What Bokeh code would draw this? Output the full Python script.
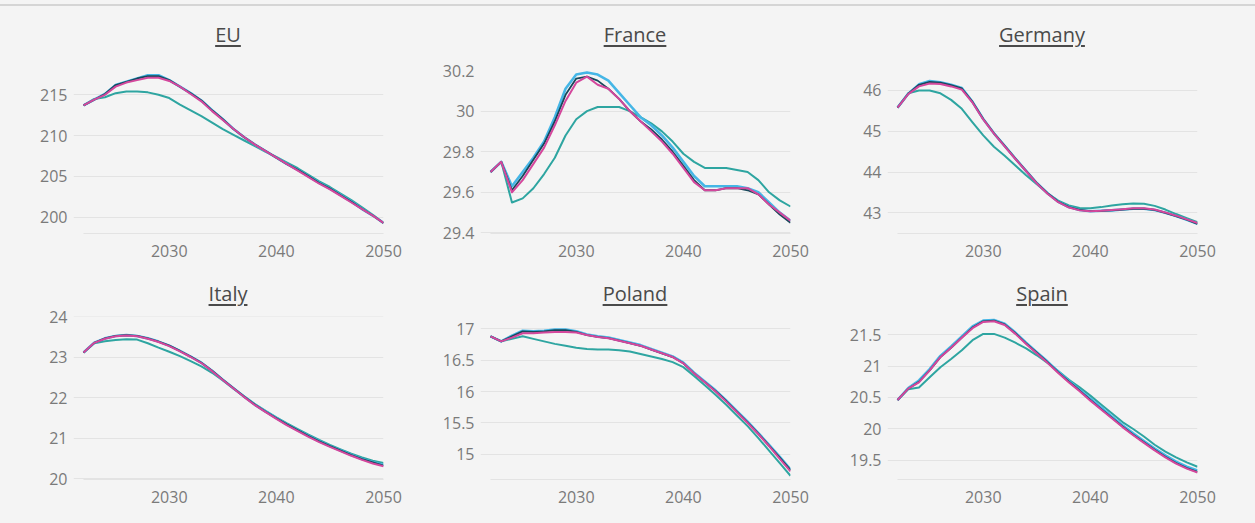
from bokeh.plotting import figure
from bokeh.models import Range1d, FixedTicker, NumeralTickFormatter, Div
from bokeh.layouts import row, column
from bokeh.embed import file_html
from bokeh.resources import INLINE

YEARS = [2022, 2023, 2024, 2025, 2026, 2027, 2028, 2029, 2030, 2031, 2032, 2033, 2034, 2035,
         2036, 2037, 2038, 2039, 2040, 2041, 2042, 2043, 2044, 2045, 2046, 2047, 2048, 2049, 2050]
X_TICKS = [2030, 2040, 2050]

# ---- EU ----
EU_TEAL = [213.7, 214.5, 214.7, 215.2, 215.4, 215.4, 215.3, 215.0, 214.6, 213.8, 213.1, 212.4, 211.6, 210.8,
           210.1, 209.4, 208.7, 208.0, 207.4, 206.7, 206.0, 205.2, 204.4, 203.7, 202.9, 202.1, 201.2, 200.3, 199.3]
EU_BLUE = [213.7, 214.4, 215.1, 216.2, 216.6, 217.0, 217.4, 217.4, 216.8, 216.0, 215.2, 214.3, 213.1, 212.0,
           210.8, 209.8, 208.9, 208.1, 207.3, 206.5, 205.8, 205.0, 204.2, 203.5, 202.7, 201.9, 201.0, 200.2, 199.3]
EU_DARK = [213.7, 214.4, 215.1, 216.2, 216.6, 217.0, 217.3, 217.3, 216.8, 216.0, 215.2, 214.3, 213.1, 212.0,
           210.8, 209.8, 208.9, 208.1, 207.3, 206.5, 205.8, 205.0, 204.2, 203.5, 202.7, 201.9, 201.0, 200.2, 199.3]
EU_PINK = [213.7, 214.4, 215.0, 216.0, 216.5, 216.8, 217.1, 217.1, 216.7, 216.0, 215.1, 214.2, 213.0, 211.9,
           210.8, 209.8, 208.9, 208.1, 207.3, 206.5, 205.7, 204.9, 204.1, 203.4, 202.6, 201.8, 201.0, 200.2, 199.3]
EU_YTICKS = [200, 205, 210, 215]

# ---- France ----
FR_TEAL = [29.70, 29.75, 29.55, 29.57, 29.62, 29.69, 29.77, 29.88, 29.96, 30.00, 30.02, 30.02, 30.02, 30.00,
           29.97, 29.94, 29.90, 29.85, 29.79, 29.75, 29.72, 29.72, 29.72, 29.71, 29.70, 29.66, 29.60, 29.56, 29.53]
FR_BLUE = [29.70, 29.75, 29.63, 29.70, 29.77, 29.85, 29.97, 30.11, 30.18, 30.19, 30.18, 30.15, 30.09, 30.03,
           29.97, 29.93, 29.88, 29.82, 29.75, 29.68, 29.63, 29.63, 29.63, 29.63, 29.62, 29.60, 29.55, 29.50, 29.46]
FR_DARK = [29.70, 29.75, 29.61, 29.68, 29.76, 29.84, 29.95, 30.08, 30.16, 30.17, 30.15, 30.11, 30.06, 30.00,
           29.95, 29.91, 29.86, 29.80, 29.73, 29.66, 29.61, 29.61, 29.62, 29.62, 29.61, 29.59, 29.54, 29.49, 29.45]
FR_PINK = [29.70, 29.75, 29.60, 29.66, 29.74, 29.82, 29.93, 30.05, 30.14, 30.17, 30.13, 30.11, 30.06, 30.00,
           29.95, 29.90, 29.85, 29.79, 29.72, 29.65, 29.61, 29.61, 29.62, 29.62, 29.62, 29.59, 29.54, 29.50, 29.46]
FR_YTICKS = [29.4, 29.6, 29.8, 30.0, 30.2]

# ---- Germany ----
DE_TEAL = [45.58, 45.93, 46.00, 46.00, 45.93, 45.77, 45.55, 45.22, 44.90, 44.62, 44.40, 44.16, 43.92, 43.70,
           43.48, 43.30, 43.18, 43.12, 43.11, 43.14, 43.18, 43.21, 43.23, 43.22, 43.17, 43.08, 42.97, 42.87, 42.77]
DE_BLUE = [45.58, 45.92, 46.15, 46.23, 46.20, 46.14, 46.06, 45.72, 45.30, 44.95, 44.64, 44.33, 44.03, 43.73,
           43.48, 43.27, 43.14, 43.07, 43.04, 43.05, 43.06, 43.08, 43.10, 43.10, 43.07, 43.00, 42.92, 42.83, 42.73]
DE_DARK = [45.58, 45.92, 46.14, 46.21, 46.19, 46.13, 46.05, 45.72, 45.30, 44.95, 44.64, 44.33, 44.03, 43.73,
           43.48, 43.27, 43.14, 43.07, 43.04, 43.05, 43.06, 43.08, 43.10, 43.10, 43.07, 43.00, 42.92, 42.83, 42.73]
DE_PINK = [45.58, 45.91, 46.10, 46.17, 46.16, 46.10, 46.02, 45.70, 45.29, 44.94, 44.63, 44.32, 44.02, 43.72,
           43.47, 43.26, 43.13, 43.06, 43.04, 43.05, 43.07, 43.09, 43.11, 43.11, 43.08, 43.01, 42.93, 42.84, 42.75]
DE_YTICKS = [43, 44, 45, 46]

# ---- Italy ----
IT_TEAL = [23.12, 23.35, 23.40, 23.43, 23.45, 23.44, 23.35, 23.24, 23.14, 23.03, 22.91, 22.78, 22.62, 22.43,
           22.23, 22.04, 21.85, 21.68, 21.52, 21.37, 21.23, 21.09, 20.96, 20.84, 20.73, 20.62, 20.53, 20.45, 20.39]
IT_BLUE = [23.12, 23.36, 23.47, 23.53, 23.55, 23.53, 23.47, 23.39, 23.29, 23.16, 23.02, 22.87, 22.67, 22.45,
           22.24, 22.03, 21.83, 21.66, 21.50, 21.34, 21.20, 21.06, 20.93, 20.81, 20.70, 20.59, 20.49, 20.41, 20.34]
IT_DARK = [23.12, 23.36, 23.47, 23.53, 23.55, 23.53, 23.47, 23.39, 23.29, 23.16, 23.02, 22.87, 22.67, 22.45,
           22.24, 22.03, 21.83, 21.66, 21.50, 21.34, 21.20, 21.06, 20.93, 20.81, 20.70, 20.59, 20.49, 20.41, 20.33]
IT_PINK = [23.12, 23.36, 23.46, 23.52, 23.54, 23.52, 23.46, 23.38, 23.28, 23.15, 23.01, 22.86, 22.66, 22.44,
           22.23, 22.02, 21.82, 21.65, 21.48, 21.32, 21.18, 21.04, 20.91, 20.79, 20.68, 20.57, 20.47, 20.38, 20.31]
IT_YTICKS = [20, 21, 22, 23, 24]

# ---- Poland ----
PL_TEAL = [16.88, 16.80, 16.84, 16.88, 16.84, 16.80, 16.76, 16.73, 16.70, 16.68, 16.67, 16.67, 16.66, 16.64,
           16.60, 16.56, 16.52, 16.47, 16.39, 16.25, 16.10, 15.95, 15.79, 15.62, 15.45, 15.26, 15.06, 14.86, 14.66]
PL_BLUE = [16.88, 16.80, 16.89, 16.97, 16.96, 16.97, 16.99, 16.99, 16.96, 16.91, 16.88, 16.86, 16.82, 16.78,
           16.74, 16.68, 16.62, 16.56, 16.46, 16.30, 16.16, 16.02, 15.86, 15.69, 15.52, 15.34, 15.15, 14.96, 14.76]
PL_DARK = [16.88, 16.80, 16.88, 16.96, 16.95, 16.96, 16.98, 16.98, 16.95, 16.90, 16.87, 16.85, 16.81, 16.77,
           16.73, 16.67, 16.61, 16.55, 16.45, 16.29, 16.15, 16.01, 15.85, 15.68, 15.51, 15.33, 15.14, 14.95, 14.75]
PL_PINK = [16.88, 16.80, 16.86, 16.93, 16.93, 16.94, 16.95, 16.95, 16.94, 16.90, 16.87, 16.85, 16.81, 16.77,
           16.73, 16.67, 16.61, 16.55, 16.45, 16.29, 16.15, 16.00, 15.84, 15.67, 15.50, 15.32, 15.13, 14.93, 14.73]
PL_YTICKS = [15, 15.5, 16, 16.5, 17]

# ---- Spain ----
ES_TEAL = [20.46, 20.63, 20.66, 20.82, 20.98, 21.11, 21.25, 21.41, 21.51, 21.51, 21.45, 21.37, 21.28, 21.17,
           21.05, 20.92, 20.78, 20.66, 20.53, 20.39, 20.25, 20.11, 20.00, 19.88, 19.75, 19.64, 19.55, 19.47, 19.40]
ES_BLUE = [20.46, 20.65, 20.77, 20.95, 21.16, 21.31, 21.47, 21.63, 21.72, 21.73, 21.67, 21.53, 21.37, 21.22,
           21.07, 20.91, 20.76, 20.62, 20.48, 20.34, 20.20, 20.06, 19.93, 19.81, 19.69, 19.58, 19.48, 19.40, 19.34]
ES_DARK = [20.46, 20.64, 20.75, 20.93, 21.14, 21.29, 21.45, 21.61, 21.71, 21.72, 21.66, 21.52, 21.36, 21.21,
           21.06, 20.90, 20.75, 20.61, 20.46, 20.32, 20.18, 20.04, 19.91, 19.79, 19.67, 19.56, 19.46, 19.38, 19.32]
ES_PINK = [20.46, 20.64, 20.74, 20.93, 21.14, 21.29, 21.45, 21.60, 21.70, 21.71, 21.65, 21.51, 21.35, 21.20,
           21.05, 20.89, 20.74, 20.60, 20.45, 20.31, 20.17, 20.03, 19.90, 19.78, 19.66, 19.55, 19.45, 19.37, 19.31]
ES_YTICKS = [19.5, 20, 20.5, 21, 21.5]

BG = "#f4f4f4"
FONT = "Open Sans"
COLORS = {"teal": "#2ea5a1", "blue": "#45b6e6", "dark": "#17485a", "pink": "#d4479c"}
WIDTHS = {"teal": 2, "blue": 2.6, "dark": 1.8, "pink": 2}

panels = [
    ("EU", [EU_TEAL, EU_BLUE, EU_DARK, EU_PINK], (198.0, 217.98), EU_YTICKS),
    ("France", [FR_TEAL, FR_BLUE, FR_DARK, FR_PINK], (29.397, 30.2), FR_YTICKS),
    ("Germany", [DE_TEAL, DE_BLUE, DE_DARK, DE_PINK], (42.493, 46.49), DE_YTICKS),
    ("Italy", [IT_TEAL, IT_BLUE, IT_DARK, IT_PINK], (19.985, 24.01), IT_YTICKS),
    ("Poland", [PL_TEAL, PL_BLUE, PL_DARK, PL_PINK], (14.60, 17.196), PL_YTICKS),
    ("Spain", [ES_TEAL, ES_BLUE, ES_DARK, ES_PINK], (19.198, 21.786), ES_YTICKS),
]

FRAME_W = 310
FRAME_H = 163
LEFTS = [73, 65, 65]
RIGHTS = [32, 32, 58]


def make_panel(idx, name, series, yr, yticks):
    col = idx % 3
    top_row = idx < 3
    left = LEFTS[col]
    right = RIGHTS[col]
    width = left + FRAME_W + right
    mb_top = 15 if top_row else 9
    mb_bottom = 40 if top_row else 44
    height = mb_top + FRAME_H + mb_bottom

    p = figure(width=width, height=height, title=None, toolbar_location=None,
               output_backend="svg",
               x_range=Range1d(2022 - 10 / 10.67, 2050), y_range=Range1d(*yr),
               min_border_left=left, min_border_right=right,
               min_border_top=mb_top, min_border_bottom=mb_bottom,
               background_fill_color=BG, border_fill_color=BG, outline_line_color=None)

    for key, ys in zip(["teal", "blue", "dark", "pink"], series):
        p.line(YEARS, ys, line_color=COLORS[key], line_width=WIDTHS[key], line_join="round")

    p.xgrid.visible = False
    p.ygrid.grid_line_color = "#e3e3e3"
    p.ygrid.grid_line_width = 1
    p.yaxis.ticker = FixedTicker(ticks=yticks)
    p.yaxis.formatter = NumeralTickFormatter(format="0.[0]")
    p.yaxis.axis_line_color = None
    p.yaxis.major_label_standoff = 6
    p.xaxis.ticker = FixedTicker(ticks=X_TICKS)
    p.xaxis.formatter = NumeralTickFormatter(format="0")
    p.xaxis.axis_line_color = "#e3e3e3"
    p.xaxis.axis_line_width = 1
    p.xaxis.bounds = (2022, 2050)
    p.xaxis.major_label_standoff = 11
    for ax in (p.xaxis[0], p.yaxis[0]):
        ax.major_tick_out = 0
        ax.major_tick_in = 0
        ax.minor_tick_out = 0
        ax.minor_tick_in = 0
        ax.major_label_text_font = FONT
        ax.major_label_text_font_size = "16px"
        ax.major_label_text_color = "#7a7a7a"

    if top_row:
        t_h, pad = 49, 19
    else:
        t_h, pad = 34, 11
    title = Div(
        text=(f'<div style="width:{FRAME_W}px;margin-left:{left}px;text-align:center;'
              f"font-family:'{FONT}';font-size:20px;line-height:20px;padding-top:{pad}px;"
              f'color:#4a4a4a;text-decoration:underline;text-underline-offset:3px;">{name}</div>'),
        width=width, height=t_h, margin=(0, 0, 0, 0),
        styles={"background-color": BG})
    return column(title, p, spacing=0, styles={"background-color": BG})


cells = [make_panel(i, *panel) for i, panel in enumerate(panels)]
top_gap = Div(text="", width=1255, height=4, margin=(0, 0, 0, 0),
              styles={"background-color": BG})
top_line = Div(text="", width=1255, height=2, margin=(0, 0, 0, 0),
               styles={"background-color": "#d5d5d5"})
layout = column(top_gap, top_line,
                row(cells[0], cells[1], cells[2], spacing=0, styles={"background-color": BG}),
                row(cells[3], cells[4], cells[5], spacing=0, styles={"background-color": BG}),
                spacing=0, styles={"background-color": BG})

open("out.html", "w").write(file_html(layout, INLINE))
